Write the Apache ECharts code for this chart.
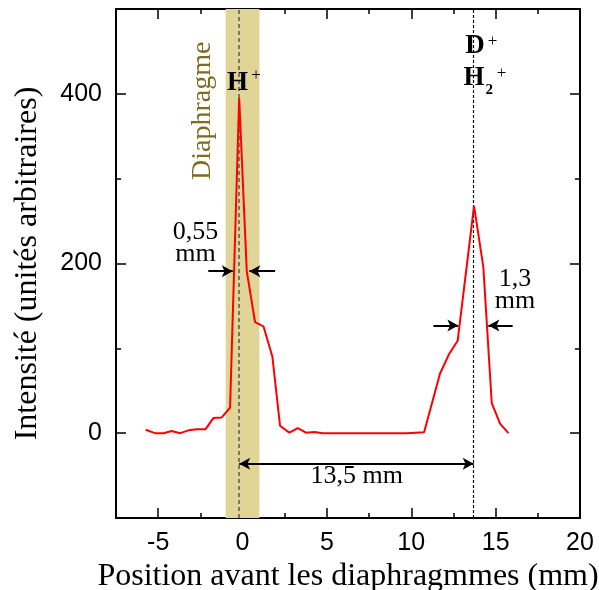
<!DOCTYPE html>
<html><head><meta charset="utf-8">
<script src="https://cdn.jsdelivr.net/npm/echarts@6/dist/echarts.min.js"></script>
<style>html,body{margin:0;padding:0;background:#fff}#c{width:599px;height:590px}</style>
</head><body><div id="c"></div>
<script>
// ---- data ----
const positionMM = [-5.74, -5.19, -4.69, -4.2, -3.7, -3.2, -2.7, -2.2, -1.73, -1.23, -0.74, -0.2, 0.25, 0.74, 1.24, 1.77, 2.22, 2.77, 3.27, 3.76, 4.26, 4.75, 5.25, 5.75, 6.25, 6.75, 7.25, 7.75, 8.25, 8.75, 9.25, 9.75, 10.25, 10.76, 11.7, 12.26, 12.75, 13.72, 14.27, 14.77, 15.26, 15.76];
const intensity  = [4, 0, 0, 2.5, 0, 3.3, 4.5, 4.5, 17.8, 18.6, 30, 395, 191, 131, 126, 90, 8.8, 0.6, 6, 0.6, 1.3, 0, 0, 0, 0, 0, 0, 0, 0, 0, 0, 0, 0.5, 1, 70, 94, 109, 268, 196, 35.5, 11.2, 0];
const xMajorTicks = [-5, 0, 5, 10, 15, 20];
const xMinorTicks = [-2.5, 2.5, 7.5, 12.5, 17.5];
const yMajorTicks = [0, 200, 400];
const yMinorTicks = [100, 300];
const diaphragmBand = [-1, 1];
const peakPositions = [-0.2, 13.7];
const xTitle = 'Position avant les diaphragmmes (mm)';
const yTitle = 'Intensité (unités arbitraires)';

const SERIF = '"Liberation Serif", "Times New Roman", serif';
const SANS = '"Liberation Sans", Arial, sans-serif';

function xAxisDef(pos, ticks, len, labels, line) {
  return {
    type: 'value', position: pos, min: -7.5, max: 20, interval: 2.5,
    axisLine: { show: line, onZero: false, lineStyle: { color: '#000', width: 2 } },
    axisTick: { show: true, inside: true, length: len, customValues: ticks, lineStyle: { color: '#000', width: 1.5 } },
    axisLabel: labels ? { show: true, customValues: ticks, margin: 13, color: '#000', fontFamily: SANS, fontSize: 25 } : { show: false },
    splitLine: { show: false }
  };
}
function yAxisDef(pos, ticks, len, labels, line) {
  return {
    type: 'value', position: pos, min: -100, max: 500, interval: 100,
    axisLine: { show: line, onZero: false, lineStyle: { color: '#000', width: 2 } },
    axisTick: { show: true, inside: true, length: len, customValues: ticks, lineStyle: { color: '#000', width: 1.5 } },
    axisLabel: labels ? { show: true, customValues: ticks, margin: 14, color: '#000', fontFamily: SANS, fontSize: 25 } : { show: false },
    splitLine: { show: false }
  };
}

const xAxes = [
  xAxisDef('bottom', xMajorTicks, 10, true, true),
  xAxisDef('bottom', xMinorTicks, 5, false, false),
  xAxisDef('top', xMajorTicks, 10, false, true),
  xAxisDef('top', xMinorTicks, 5, false, false)
];
Object.assign(xAxes[0], { name: xTitle, nameLocation: 'middle', nameGap: 27,
  nameTextStyle: { fontFamily: SERIF, fontSize: 32, color: '#000' } });
const yAxes = [
  yAxisDef('left', yMajorTicks, 10, true, true),
  yAxisDef('left', yMinorTicks, 5, false, false),
  yAxisDef('right', yMajorTicks, 10, false, true),
  yAxisDef('right', yMinorTicks, 5, false, false)
];
Object.assign(yAxes[0], { name: yTitle, nameLocation: 'middle', nameGap: 72,
  nameTextStyle: { fontFamily: SERIF, fontSize: 32, color: '#000' } });

const arrowStyle = { color: '#000', width: 2, type: 'solid' };
const option = {
  animation: false,
  backgroundColor: '#fff',
  grid: { left: 116, top: 9, right: 19, bottom: 72, containLabel: false, outerBoundsMode: 'none' },
  xAxis: xAxes,
  yAxis: yAxes,
  series: [
    {
      type: 'line', data: [], z: 1, silent: true,
      markArea: { silent: true, itemStyle: { color: '#e0d497' },
        data: [[{ xAxis: diaphragmBand[0] }, { xAxis: diaphragmBand[1] }]] },
      markLine: { silent: true, symbol: 'none', label: { show: false },
        data: [
          { xAxis: peakPositions[0], lineStyle: { color: '#555', width: 1.5, type: [4, 3] } },
          { xAxis: peakPositions[1], lineStyle: { color: '#000', width: 1.2, type: [3, 2] } }
        ] }
    },
    {
      type: 'line', z: 5, symbol: 'none', silent: true,
      lineStyle: { color: '#ff0000', width: 2 },
      data: positionMM.map((x, i) => [x, intensity[i]])
    },
    {
      type: 'line', data: [], z: 6, silent: true,
      markLine: { silent: true, symbol: ['none', 'arrow'], symbolSize: [9, 11], label: { show: false },
        lineStyle: arrowStyle,
        data: [
          [{ coord: [-2.03, 191] }, { coord: [-0.58, 191] }],
          [{ coord: [1.93, 191] }, { coord: [0.40, 191] }],
          [{ coord: [11.31, 127] }, { coord: [12.79, 127] }],
          [{ coord: [16.01, 127] }, { coord: [14.57, 127] }],
          [{ coord: [peakPositions[0], -36], symbol: 'arrow' }, { coord: [peakPositions[1], -36] }]
        ] }
    }
  ]
};

const chart = echarts.init(document.getElementById('c'), null, { renderer: 'canvas' });
chart.setOption(option);

// text annotations anchored in data coordinates
const notes = [
  { at: [-2.34, 380], text: 'Diaphragme', size: 28, color: '#7f6c1f', rot: Math.PI / 2 },
  { at: [-0.30, 413], text: 'H', size: 27, weight: 'bold' },
  { at: [0.80, 422], text: '+', size: 17 },
  { at: [13.78, 456], text: 'D', size: 27, weight: 'bold' },
  { at: [14.82, 462], text: '+', size: 17 },
  { at: [13.72, 419], text: 'H', size: 27, weight: 'bold' },
  { at: [14.62, 404], text: '2', size: 15, weight: 'bold' },
  { at: [15.35, 424], text: '+', size: 17 },
  { at: [-2.79, 224], text: '0,55\nmm', size: 26, lh: 22 },
  { at: [16.15, 168.5], text: '1,3\nmm', size: 26, lh: 22 },
  { at: [6.77, -51], text: '13,5 mm', size: 26 }
];
const graphics = notes.map(n => {
  const p = chart.convertToPixel({ xAxisIndex: 0, yAxisIndex: 0 }, n.at);
  return {
    type: 'text', x: p[0], y: p[1], rotation: n.rot || 0, z: 20, silent: true,
    style: { text: n.text, fontFamily: SERIF, fontSize: n.size, fontWeight: n.weight || 'normal',
      fill: n.color || '#000', align: 'center', verticalAlign: 'middle', lineHeight: n.lh || n.size }
  };
});
chart.setOption({ graphic: graphics });
</script>
</body></html>
